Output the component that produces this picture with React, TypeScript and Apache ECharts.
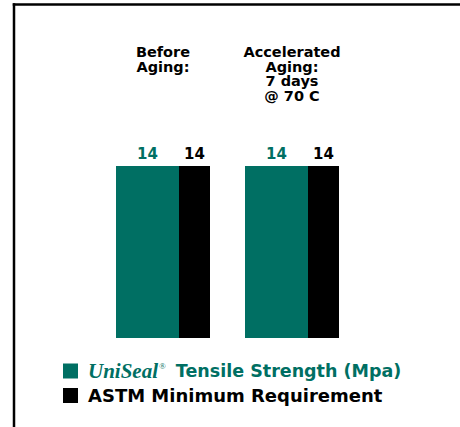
import React, { useEffect, useRef } from "react";
import * as echarts from "echarts";

const categories = ["Before\nAging:", "Accelerated\nAging:\n7 days\n@ 70 C"];
const uniSealValues = [14, 14];
const astmValues = [14, 14];
const seriesNames = ["UniSeal Tensile Strength (Mpa)", "ASTM Minimum Requirement"];

const GREEN = "#006f63";
const FONT = "DejaVu Sans";

export default function App() {
  const ref = useRef<HTMLDivElement>(null);
  useEffect(() => {
    if (!ref.current) return;
    const chart = echarts.init(ref.current, undefined, { renderer: "svg" });
    chart.setOption({
      animation: false,
      backgroundColor: "#ffffff",
      grid: { left: 98.5, right: 103.5, top: 166, bottom: 89 },
      xAxis: {
        type: "category",
        position: "top",
        data: categories,
        axisLine: { show: false },
        axisTick: { show: false },
        axisLabel: {
          interval: 0,
          margin: 121,
          verticalAlign: "top",
          align: "center",
          color: "#000",
          fontFamily: FONT,
          fontWeight: "bold",
          fontSize: 14.5,
          lineHeight: 14.5,
        },
      },
      yAxis: { type: "value", min: 0, max: 14, show: false },
      legend: [
        {
          data: [seriesNames[0]],
          left: 63,
          top: 360.5,
          padding: 0,
          icon: "rect",
          itemWidth: 15,
          itemHeight: 15,
          selectedMode: false,
          formatter: () => "{u|UniSeal}{r|®}{t|Tensile Strength (Mpa)}",
          textStyle: {
            rich: {
              u: {
                fontFamily: "Liberation Serif",
                fontStyle: "italic",
                fontWeight: "bold",
                fontSize: 21,
                color: GREEN,
                padding: [0, 0, 0, 5],
                lineHeight: 20,
              },
              r: {
                fontFamily: "Liberation Serif",
                fontSize: 9,
                color: GREEN,
                verticalAlign: "top",
                padding: [0, 10, 0, 1],
                lineHeight: 20,
              },
              t: {
                fontFamily: FONT,
                fontWeight: "bold",
                fontSize: 17.5,
                color: GREEN,
                lineHeight: 20,
              },
            },
          },
        },
        {
          data: [seriesNames[1]],
          left: 63,
          top: 385.5,
          padding: 0,
          icon: "rect",
          itemWidth: 15,
          itemHeight: 15,
          selectedMode: false,
          textStyle: {
            fontFamily: FONT,
            fontWeight: "bold",
            fontSize: 18,
            lineHeight: 20,
            color: "#000",
            padding: [0, 0, 0, 5],
          },
        },
      ],
      series: [
        {
          name: seriesNames[0],
          type: "bar",
          data: uniSealValues,
          barWidth: 63,
          barGap: 0,
          itemStyle: { color: GREEN },
          label: {
            show: true,
            position: "top",
            distance: 5,
            color: GREEN,
            fontFamily: FONT,
            fontWeight: "bold",
            fontSize: 15,
          },
        },
        {
          name: seriesNames[1],
          type: "bar",
          data: astmValues,
          barWidth: 31,
          barGap: 0,
          itemStyle: { color: "#000" },
          label: {
            show: true,
            position: "top",
            distance: 5,
            color: "#000",
            fontFamily: FONT,
            fontWeight: "bold",
            fontSize: 15,
          },
        },
      ],
      graphic: [
        {
          type: "line",
          shape: { x1: 14, y1: 3.25, x2: 14, y2: 427 },
          style: { stroke: "#000", lineWidth: 2.5 },
          silent: true,
        },
        {
          type: "line",
          shape: { x1: 12.75, y1: 4.5, x2: 460, y2: 4.5 },
          style: { stroke: "#000", lineWidth: 2.5 },
          silent: true,
        },
      ],
    });
    return () => chart.dispose();
  }, []);
  return (
    <div
      ref={ref}
      style={{ position: "absolute", left: 0, top: 0, width: 460, height: 427 }}
    />
  );
}
